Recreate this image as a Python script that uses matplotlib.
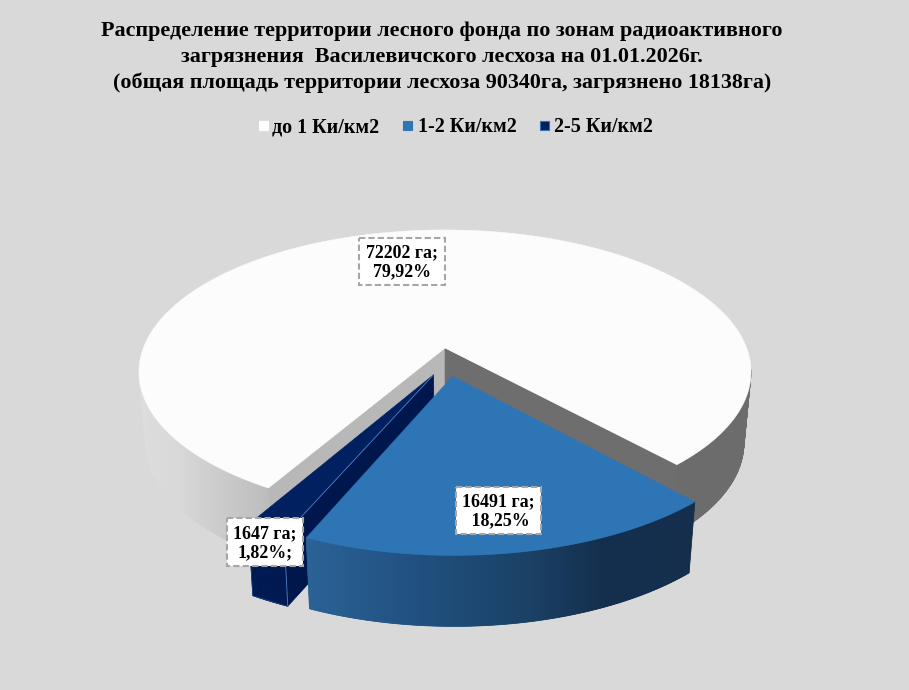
import numpy as np
import matplotlib
matplotlib.use("Agg")
import matplotlib.pyplot as plt
from matplotlib.patches import Polygon, Rectangle
from matplotlib.collections import PolyCollection

title_lines = [
    "Распределение территории лесного фонда по зонам радиоактивного",
    "загрязнения  Василевичского лесхоза на 01.01.2026г.",
    "(общая площадь территории лесхоза 90340га, загрязнено 18138га)",
]
zones = ["до 1 Ки/км2", "1-2 Ки/км2", "2-5 Ки/км2"]
areas = [72202, 16491, 1647]
labels = ["72202 га;\n79,92%", "16491 га;\n 18,25%", "1647 га;\n1,82%;"]

plt.rcParams["font.family"] = ["Liberation Serif", "DejaVu Serif"]
plt.rcParams["font.weight"] = "bold"

# projection of the pie disk to the picture (pixels)
CX, CY = 445, 348
A, B, K = 301.6, 138.0, 0.169
DEPTH, BASE_S = 71, 0.977
START = 210.0


def project(u, v):
    d = 1 + K * v
    return CX + A * u / d, CY - B * v / d


def top_pt(ang, r, off):
    a = np.radians(ang)
    return project(r * np.sin(a) + off[0], r * np.cos(a) + off[1])


def base_pt(p):
    return CX + (p[0] - CX) * BASE_S, p[1] + DEPTH


def offset(dist, ang):
    a = np.radians(ang)
    return dist * np.sin(a), dist * np.cos(a)


def rim(a0, a1, off, n=160):
    return [top_pt(t, 1, off) for t in np.linspace(a0, a1, n)]


def lerp_color(x, xs, cols):
    cols = np.array([matplotlib.colors.to_rgb(c) for c in cols])
    return tuple(np.interp(x, xs, cols[:, i]) for i in range(3))


def side(ax, pts, colfn, z):
    # quads give the smooth silhouette, the clipped image on top gives a clean gradient
    quads, cols = [], []
    for p, q in zip(pts[:-1], pts[1:]):
        quads.append([p, q, base_pt(q), base_pt(p)])
        cols.append(colfn((p[0] + q[0]) / 2))
    ax.add_collection(PolyCollection(quads, facecolors=cols, edgecolors=cols,
                                     linewidths=0.5, zorder=z))
    outline = list(pts) + [base_pt(p) for p in reversed(pts)]
    xs = [p[0] for p in outline]
    x0, x1 = min(xs) - 1, max(xs) + 1
    grad = np.array([[colfn(x) for x in np.linspace(x0, x1, 300)]])
    poly = Polygon(outline, transform=ax.transData, fc="none", ec="none")
    ax.add_patch(poly)
    im = ax.imshow(grad, extent=(x0, x1, 700, 0), aspect="auto", zorder=z + 0.1,
                   interpolation="bilinear")
    im.set_clip_path(poly)


def face(ax, p, q, color, z):
    ax.add_patch(Polygon([p, q, base_pt(q), base_pt(p)], fc=color, ec=color, lw=0.4, zorder=z))


def top(ax, apex, pts, color, z):
    ax.add_patch(Polygon([apex] + pts, fc=color, ec=color, lw=0.4, zorder=z))


fig = plt.figure(figsize=(9.09, 6.9), dpi=100, facecolor="#d9d9d9")
ax = fig.add_axes([0, 0, 1, 1])

total = sum(areas)
sweeps = [v / total * 360 for v in areas]
white_a0, white_a1 = START, START + sweeps[0]
blue_a0, blue_a1 = white_a1, white_a1 + sweeps[1]
dark_a0, dark_a1 = blue_a1, blue_a1 + sweeps[2]

# white slice
off = (0, 0)
apex = top_pt(0, 0, off)
pts = rim(white_a0, white_a1, off, 400)
left_pts = [p for p in pts if p[0] < CX and p[1] > 368]
right_pts = [p for p in pts if p[0] >= CX and p[1] > 368]
side(ax, left_pts, lambda x: lerp_color(x, [140, 180, 268], ["#dedede", "#d8d8d8", "#bdbdbd"]), 1)
side(ax, right_pts, lambda x: lerp_color(x, [600, 751], ["#6e6e6e", "#6c6c6c"]), 1)
face(ax, apex, pts[0], "#b8b8b8", 2)
face(ax, apex, pts[-1], "#6e6e6e", 2)
top(ax, apex, pts, "#fcfcfc", 3)

# dark slice
off = offset(0.19, 191)
apex = top_pt(0, 0, off)
pts = rim(dark_a0, dark_a1, off, 30)
side(ax, pts, lambda x: lerp_color(x, [0, 1], ["#001a52", "#001a52"]), 4)
face(ax, apex, pts[0], "#00174d", 4.5)
top(ax, apex, pts, "#002060", 5)
ax.plot(*zip(apex, pts[0], base_pt(pts[0])), color="#4f81c4", lw=0.6, zorder=6)
ax.plot(*zip(pts[-1], base_pt(pts[-1])), color="#1f4a8c", lw=0.5, zorder=6)
ax.plot(*zip(base_pt(pts[-1]), base_pt(pts[0])), color="#1f4a8c", lw=0.5, zorder=6)

# blue slice
off = offset(0.2, 173)
apex = top_pt(0, 0, off)
pts = rim(blue_a0, blue_a1, off, 200)
side(ax, pts, lambda x: lerp_color(x, [306, 420, 520, 600, 695],
                                   ["#2b6396", "#215080", "#1b4368", "#15304f", "#142e4c"]), 7)
top(ax, apex, pts, "#2e75b6", 8)

# data labels
boxes = [(359, 238, 86, 47), (456, 487, 85, 47), (227, 518, 76, 48)]
for (x, y, w, h), s in zip(boxes, labels):
    ax.add_patch(Rectangle((x, y), w, h, fc="white", ec="#a6a6a6", lw=1.5,
                           ls=(0, (3, 1.5)), zorder=9))
    ax.text(x + w / 2, y + h / 2 + 1, s, ha="center", va="center", fontsize=12.9,
            linespacing=1.12, color="black", zorder=10)

# title
for line, y in zip(title_lines, [36, 62, 88]):
    ax.text(442, y, line, ha="center", va="baseline", fontsize=15.8, color="black")

# legend
leg_colors = ["white", "#2e75b6", "#002060"]
leg_edges = ["white", "#2e75b6", "#2e75b6"]
for name, fc, ec, xm, xt in zip(zones, leg_colors, leg_edges, [263, 407, 544], [272, 418, 554]):
    ax.add_patch(Rectangle((xm - 4.5, 120.5), 9, 9, fc=fc, ec=ec, lw=0.8))
    ax.text(xt, 132, name, ha="left", va="baseline", fontsize=14.4, color="black")

ax.set_xlim(0, 909)
ax.set_ylim(690, 0)
ax.axis("off")

fig.savefig("out.png", dpi=100, facecolor=fig.get_facecolor())
